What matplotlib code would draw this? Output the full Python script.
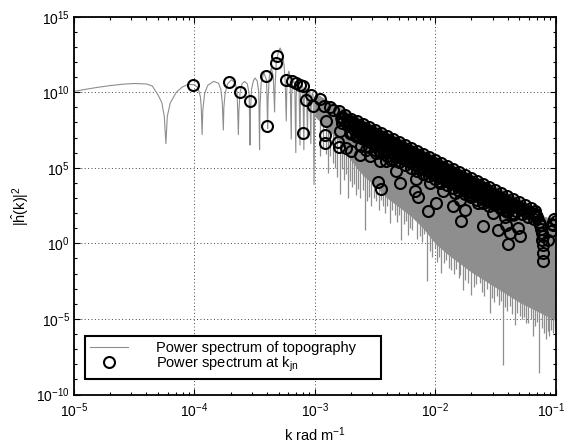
import numpy as np
import matplotlib
matplotlib.use('Agg')
import matplotlib.pyplot as plt
from matplotlib.patches import Polygon
from matplotlib.ticker import FixedLocator, NullFormatter, LogFormatterSciNotation
from matplotlib.lines import Line2D
from matplotlib.transforms import ScaledTranslation

plt.rcParams['font.family'] = ['Liberation Sans', 'DejaVu Sans']
plt.rcParams['mathtext.fontset'] = 'custom'
plt.rcParams['mathtext.rm'] = 'Liberation Sans'
plt.rcParams['mathtext.it'] = 'Liberation Sans:italic'
plt.rcParams['mathtext.bf'] = 'Liberation Sans:bold'

# ---------------- data (log10 values) ----------------
# continuous spectrum, sparse part (log10 k, log10 |h|^2)
line_logk = [-5.0, -4.9, -4.8, -4.7, -4.6, -4.5, -4.4, -4.35, -4.30, -4.27, -4.25, -4.2366,
             -4.225, -4.20, -4.15, -4.10, -4.05, -4.0, -3.97, -3.95, -3.943, -3.9355,
             -3.93, -3.915, -3.89, -3.84, -3.80, -3.78, -3.768, -3.7595,
             -3.755, -3.745, -3.725, -3.6925, -3.66, -3.645, -3.6345,
             -3.63, -3.62, -3.605, -3.583, -3.56, -3.545, -3.5376,
             -3.534, -3.525, -3.51, -3.496, -3.478, -3.465, -3.4584,
             -3.455, -3.445, -3.4237, -3.40, -3.3915,
             -3.388, -3.378, -3.3615, -3.345, -3.3335,
             -3.330, -3.32, -3.305, -3.288, -3.27, -3.255, -3.245, -3.2366,
             -3.233, -3.225, -3.215, -3.205, -3.1952,
             -3.192, -3.185, -3.176, -3.166, -3.1574,
             -3.154, -3.148, -3.14, -3.131, -3.1226,
             -3.119, -3.113, -3.106, -3.098, -3.0904,
             -3.087, -3.081, -3.075, -3.068, -3.0605,
             -3.057, -3.052, -3.046, -3.040, -3.0325,
             -3.029, -3.024, -3.019, -3.013, -3.0061, -3.0]
line_logv = [10.06, 10.2, 10.33, 10.44, 10.53, 10.58, 10.55, 10.42, 9.8, 9.3, 8.4, 6.6,
             8.4, 9.3, 10.0, 10.35, 10.52, 10.5, 10.3, 9.7, 9.0, 7.2,
             8.8, 9.9, 10.45, 10.72, 10.6, 10.2, 9.3, 7.5,
             9.0, 9.9, 10.55, 10.83, 10.6, 10.0, 7.2,
             8.8, 10.0, 10.55, 10.72, 10.55, 9.9, 6.5,
             8.8, 10.2, 10.75, 10.94, 10.75, 10.0, 6.2,
             9.0, 10.6, 11.3, 10.8, 7.6,
             9.5, 11.0, 11.6, 11.1, 8.7,
             10.3, 11.9, 12.6, 12.93, 12.6, 11.8, 10.6, 8.1,
             10.0, 11.1, 11.4, 11.1, 6.9,
             9.8, 10.6, 10.8, 10.5, 6.0,
             9.7, 10.5, 10.7, 10.45, 6.5,
             9.6, 10.3, 10.5, 10.3, 6.2,
             9.5, 10.1, 10.3, 10.1, 7.0,
             9.3, 9.9, 10.1, 9.9, 6.6,
             9.2, 9.8, 9.95, 9.8, 3.9, 9.3]

# dense part: envelope of the oscillating spectrum
env_logk = [-3.0, -2.9, -2.8, -2.7, -2.6, -2.5, -2.4, -2.3, -2.2, -2.1, -2.0, -1.9,
            -1.8, -1.7, -1.6, -1.5, -1.4, -1.3, -1.2, -1.15, -1.1, -1.05, -1.0]
env_upper = [9.95, 9.5, 9.05, 8.6, 8.2, 7.8, 7.4, 7.0, 6.6, 6.2, 5.8, 5.4,
             5.0, 4.6, 4.2, 3.8, 3.4, 3.0, 2.55, 2.2, 1.8, 1.65, 1.6]
env_lower = [8.4, 7.6, 6.8, 5.5, 4.5, 3.8, 3.0, 2.4, 1.8, 1.0, 0.0, -0.7,
             -1.3, -1.9, -2.4, -2.9, -3.4, -3.9, -4.3, -4.5, -4.7, -4.9, -5.1]

# dense part: individual deep minima (log10 k, log10 bottom)
spike_logk = [-2.959, -2.934, -2.910, -2.889, -2.870, -2.848, -2.830, -2.812, -2.793, -2.775,
              -2.757, -2.740, -2.724, -2.705, -2.690, -2.672, -2.654, -2.637, -2.620, -2.602,
              -2.585, -2.567, -2.548, -2.530, -2.510, -2.488, -2.470, -2.452, -2.433, -2.415,
              -2.396, -2.378, -2.357, -2.336, -2.318, -2.300, -2.281, -2.262, -2.244, -2.226,
              -2.206, -2.188, -2.170, -2.150, -2.129, -2.110, -2.090, -2.068, -2.045, -2.025,
              -2.005, -1.985, -1.966, -1.949, -1.930, -1.910, -1.888, -1.866, -1.845, -1.825,
              -1.805, -1.790, -1.769, -1.750, -1.730, -1.700, -1.680, -1.660, -1.631, -1.610,
              -1.590, -1.570, -1.548, -1.530, -1.510, -1.490, -1.470, -1.452, -1.437, -1.420,
              -1.400, -1.382, -1.360, -1.340, -1.320, -1.299, -1.280, -1.260, -1.243, -1.225,
              -1.205, -1.188, -1.170, -1.150, -1.133, -1.115, -1.098, -1.083, -1.065, -1.050,
              -1.035, -1.020, -1.008]
spike_bottom = [5.76, 6.3, 5.9, 4.66, 5.8, 5.32, 5.0, 4.4, 3.3, 4.9,
                4.2, 4.6, 3.01, 4.1, 3.7, 3.9, 3.23, 3.6, 3.0, 3.5,
                0.91, 2.8, 3.1, 2.45, 3.0, 2.78, 2.2, 2.9, 2.45, 2.0,
                2.5, 1.36, 2.2, 1.90, 1.4, 1.9, 0.25, 1.3, 1.5, 0.58,
                1.0, 0.9, 1.57, 0.3, 0.47, 0.1, 0.6, -2.51, -0.5, -0.9,
                -0.3, -1.2, -0.9, -1.95, -1.3, -1.1, -1.6, -1.73, -2.0, -1.7,
                -2.3, -2.1, -3.06, -2.4, -2.6, -3.39, -2.9, -2.7, -2.61, -3.2,
                -3.5, -3.0, -4.60, -3.6, -3.9, -3.5, -4.1, -3.8, -8.02, -4.2,
                -4.5, -4.16, -4.7, -5.37, -4.6, -4.82, -5.0, -4.9, -5.26, -5.3,
                -5.0, -6.14, -5.5, -5.2, -8.57, -5.6, -5.9, -6.36, -5.8, -6.14,
                -5.7, -5.9, -5.6]

# spectrum sampled at k_jn (circles)
circ_logk = [-4.010, -3.711, -3.622, -3.539, -3.407, -3.396, -3.324, -3.313, -3.241, -3.193,
             -3.152, -3.119, -3.097, -3.027, -3.069, -3.014, -2.959, -3.097, -2.925, -2.876,
             -2.848, -2.903, -2.917, -2.917, -2.793, -2.809, -2.801, -2.737, -2.695, -2.627,
             -2.612, -2.571, -2.544, -2.488, -2.461, -2.405, -2.364, -2.475, -2.448, -2.322,
             -2.295, -2.156, -2.170, -2.143, -2.046, -1.990, -2.062, -1.935, -1.852, -1.783,
             -1.755, -1.797, -1.838, -1.719, -1.645, -1.603, -1.520, -1.479, -1.409, -1.382,
             -1.396, -1.313, -1.299, -1.963, -1.420,
             -1.166, -1.155, -1.141, -1.130, -1.124, -1.115, -1.108, -1.105, -1.100, -1.100,
             -1.100, -1.066, -1.041, -1.030, -1.017, -1.010, -1.000]
circ_logv = [10.46, 10.65, 10.02, 9.40, 11.05, 7.79, 11.94, 12.42, 10.83, 10.73,
             10.62, 10.50, 10.39, 9.84, 9.48, 9.07, 9.56, 7.31, 9.07, 9.05,
             8.85, 8.08, 7.20, 6.63, 7.41, 6.73, 6.37, 6.32, 6.09, 5.87,
             6.42, 6.20, 5.76, 5.99, 5.48, 5.43, 5.54, 4.05, 3.60, 4.77,
             4.00, 4.29, 3.45, 3.06, 4.00, 2.68, 2.17, 3.45, 2.45, 1.51,
             2.24, 2.90, 3.34, 3.23, 2.68, 1.13, 2.02, 0.91, 1.24, 0.69,
             -0.01, 1.03, 0.47, 4.00, 1.74,
             1.90, 1.75, 1.44, 1.2, 0.98, 0.7, 0.2, 0.47, -0.08, -0.63,
             -1.18, 0.25, 0.85, 1.3, 1.24, 1.6, 1.51]

# the dense band of circles along the top of the spectrum (several overlapping rows)
bandA_logk = [-2.80, -2.75, -2.70, -2.65, -2.60, -2.55, -2.50, -2.45, -2.40, -2.35, -2.30, -2.25,
              -2.20, -2.15, -2.10, -2.05, -2.00, -1.95, -1.90, -1.85, -1.80, -1.75, -1.70, -1.65,
              -1.60, -1.55, -1.50, -1.45, -1.40, -1.35, -1.30, -1.25, -1.20, -1.17]
bandA_logv = [8.75, 8.50, 8.25, 8.08, 7.90, 7.72, 7.52, 7.33, 7.12, 6.92, 6.72, 6.52,
              6.32, 6.12, 5.93, 5.74, 5.55, 5.35, 5.15, 4.95, 4.75, 4.55, 4.34, 4.13,
              3.93, 3.73, 3.53, 3.32, 3.12, 2.92, 2.72, 2.52, 2.31, 2.15]
bandA2_logk = [-2.775, -2.725, -2.675, -2.625, -2.575, -2.525, -2.475, -2.425, -2.375, -2.325,
               -2.275, -2.225, -2.175, -2.125, -2.075, -2.025, -1.975, -1.925, -1.875, -1.825,
               -1.775, -1.725, -1.675, -1.625, -1.575, -1.525, -1.475, -1.425, -1.375, -1.325,
               -1.275, -1.225, -1.175]
bandA2_logv = [8.30, 8.10, 7.90, 7.70, 7.50, 7.30, 7.10, 6.90, 6.70, 6.50,
               6.30, 6.10, 5.90, 5.70, 5.50, 5.30, 5.10, 4.90, 4.70, 4.50,
               4.30, 4.10, 3.90, 3.70, 3.50, 3.30, 3.10, 2.90, 2.70, 2.50,
               2.30, 2.10, 1.95]
bandB_logk = [-2.775, -2.725, -2.675, -2.625, -2.575, -2.525, -2.475, -2.425, -2.375, -2.325,
              -2.275, -2.225, -2.175, -2.125, -2.075, -2.025, -1.975, -1.925, -1.875, -1.825,
              -1.775, -1.725, -1.675, -1.625, -1.575, -1.525, -1.475, -1.425, -1.375, -1.325,
              -1.275, -1.225, -1.175]
bandB_logv = [7.95, 7.75, 7.55, 7.35, 7.15, 6.95, 6.75, 6.55, 6.35, 6.15,
              5.95, 5.75, 5.55, 5.35, 5.15, 4.95, 4.75, 4.55, 4.35, 4.15,
              3.95, 3.75, 3.55, 3.35, 3.15, 2.95, 2.75, 2.55, 2.35, 2.15,
              1.95, 1.75, 1.6]
bandB2_logk = [-2.70, -2.65, -2.60, -2.55, -2.50, -2.45, -2.40, -2.35, -2.30, -2.25,
               -2.20, -2.15, -2.10, -2.05, -2.00, -1.95, -1.90, -1.85, -1.80, -1.75,
               -1.70, -1.65, -1.60, -1.55, -1.50, -1.45, -1.40, -1.35]
bandB2_logv = [7.30, 7.13, 6.95, 6.77, 6.57, 6.38, 6.17, 5.97, 5.77, 5.57,
               5.37, 5.17, 4.98, 4.79, 4.60, 4.40, 4.20, 4.00, 3.80, 3.60,
               3.39, 3.18, 2.98, 2.78, 2.58, 2.37, 2.17, 1.97]
bandC_logk = [-2.55, -2.50, -2.45, -2.40, -2.35, -2.30, -2.25, -2.20, -2.15, -2.10, -2.05,
              -2.00, -1.95, -1.90, -1.85, -1.80, -1.75, -1.70, -1.65, -1.60, -1.55]
bandC_logv = [6.4, 6.2, 6.0, 5.8, 5.6, 5.4, 5.2, 5.0, 4.8, 4.6, 4.45,
              4.25, 4.05, 3.85, 3.65, 3.45, 3.25, 3.05, 2.85, 2.65, 2.45]

x_ticks = [1e-5, 1e-4, 1e-3, 1e-2, 1e-1]
y_ticks = [1e-10, 1e-5, 1e0, 1e5, 1e10, 1e15]
label_line = 'Power spectrum of topography'
label_circ = r'Power spectrum at k$_{\mathrm{jn}}$'

# ---------------- drawing ----------------
fig = plt.figure(figsize=(5.67, 4.45), dpi=100)
ax = fig.add_axes([74 / 567, (445 - 394.5) / 445, 481.5 / 567, 377.8 / 445])
ax.set_xscale('log')
ax.set_yscale('log')

gray = '#8e8e8e'

def p10(a):
    return 10.0 ** np.asarray(a, dtype=float)

ax.fill_between(p10(env_logk), p10(env_lower), p10(env_upper), color=gray, lw=0, zorder=2)
clip_poly = Polygon(np.column_stack([np.r_[p10(env_logk), 1e-1, 1e-3],
                                     np.r_[p10(env_upper), 1e-12, 1e-12]]),
                    closed=True, transform=ax.transData)
vl = ax.vlines(p10(spike_logk), p10(spike_bottom), 1e14, colors=gray, lw=0.9, zorder=2)
vl.set_clip_path(clip_poly)
ax.plot(p10(line_logk), p10(line_logv), color=gray, lw=0.8, zorder=2)

mk = dict(ls='none', marker='o', mfc='none', mec='k', ms=7.9, mew=1.5, zorder=3)
for kk, vv, w in [(bandC_logk, bandC_logv, 1.5), (bandB2_logk, bandB2_logv, 2.6),
                  (bandB_logk, bandB_logv, 1.5), (bandA2_logk, bandA2_logv, 2.6),
                  (bandA_logk, bandA_logv, 1.5), (circ_logk, circ_logv, 1.5)]:
    ax.plot(p10(kk), p10(vv), **{**mk, 'mew': w})

ax.set_xlim(1e-5, 1e-1)
ax.set_ylim(1e-10, 1e15)
ax.xaxis.set_major_locator(FixedLocator(x_ticks))
ax.yaxis.set_major_locator(FixedLocator(y_ticks))
ax.xaxis.set_minor_locator(FixedLocator([m * 10.0 ** e for e in range(-5, -1) for m in range(2, 10)]))
ax.yaxis.set_minor_locator(FixedLocator([10.0 ** e for e in range(-10, 16)]))
ax.xaxis.set_minor_formatter(NullFormatter())
ax.yaxis.set_minor_formatter(NullFormatter())
ax.xaxis.set_major_formatter(LogFormatterSciNotation())
ax.yaxis.set_major_formatter(LogFormatterSciNotation())

ax.tick_params(which='both', direction='in', top=True, right=True, width=0.8, labelsize=10)
ax.tick_params(which='major', length=4)
ax.tick_params(which='minor', length=2.5)
ax.tick_params(axis='x', pad=5)
ax.tick_params(axis='y', pad=3)
for s in ax.spines.values():
    s.set_linewidth(1.3)

ax.grid(True, which='major', color='#444444', ls=(0, (1, 2.5)), lw=0.7, zorder=1)
ax.set_axisbelow(True)

ax.set_xlabel(r'k rad m$^{-1}$', fontsize=10.5, labelpad=4)
ax.set_ylabel(r'$|\hat{\mathrm{h}}(\mathrm{k})|^2$', fontsize=10.5, labelpad=4)

h1 = Line2D([], [], color=gray, lw=0.8)
h2 = Line2D([], [], **mk)
leg = ax.legend([h1, h2], [label_line, label_circ], loc='lower left',
                bbox_to_anchor=(0.0228, 0.041, 0.615, 0.114), mode='expand',
                borderaxespad=0, fontsize=10.5, handlelength=2.6, handletextpad=1.9,
                borderpad=0.35, labelspacing=0.0, fancybox=False, framealpha=1,
                edgecolor='k')
leg.get_frame().set_linewidth(1.5)
leg.set_zorder(5)

fig.canvas.draw()
last = ax.xaxis.get_major_ticks()[-1].label1
last.set_transform(last.get_transform() + ScaledTranslation(-3 / 72, 0, fig.dpi_scale_trans))

fig.savefig('out.png', dpi=100)
